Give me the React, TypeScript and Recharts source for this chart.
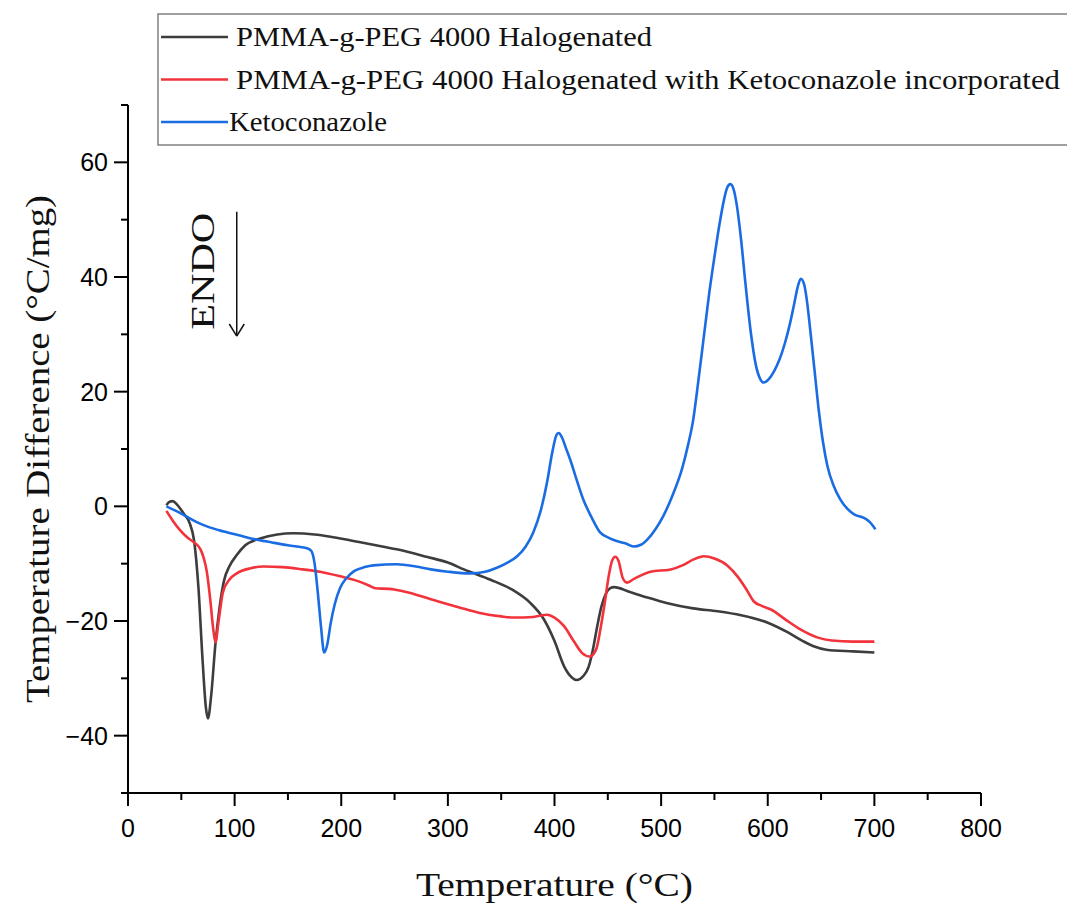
import React from 'react';
import {
  LineChart,
  Line,
  XAxis,
  YAxis,
  Legend,
  Label,
  ReferenceLine,
  ReferenceDot,
} from 'recharts';

// temperature (°C) / temperature difference (°C/mg)
const halogenated = [
  { t: 36, v: 0.2 }, { t: 39, v: 0.8 }, { t: 42, v: 0.9 }, { t: 46, v: 0.3 },
  { t: 52, v: -1.2 }, { t: 58, v: -3.0 }, { t: 62, v: -6 }, { t: 66, v: -14 },
  { t: 70, v: -27 }, { t: 73, v: -35 }, { t: 75, v: -37 }, { t: 78, v: -33 },
  { t: 82, v: -24 }, { t: 86, v: -17.5 }, { t: 90, v: -13 }, { t: 95, v: -10.5 },
  { t: 102, v: -8.5 }, { t: 110, v: -6.8 }, { t: 124, v: -5.6 }, { t: 140, v: -4.9 },
  { t: 155, v: -4.7 }, { t: 175, v: -4.9 }, { t: 190, v: -5.3 }, { t: 210, v: -6 },
  { t: 230, v: -6.7 }, { t: 252, v: -7.5 }, { t: 280, v: -8.8 }, { t: 300, v: -9.8 },
  { t: 315, v: -11 }, { t: 340, v: -12.8 }, { t: 360, v: -14.5 }, { t: 377, v: -16.8 },
  { t: 390, v: -19.7 }, { t: 400, v: -23.5 }, { t: 409, v: -27.9 }, { t: 416, v: -29.8 },
  { t: 421, v: -30.3 }, { t: 427, v: -29.6 }, { t: 432, v: -28 }, { t: 436, v: -25 },
  { t: 440, v: -21 }, { t: 444, v: -17.5 }, { t: 448, v: -15.3 }, { t: 452, v: -14.3 },
  { t: 456, v: -14.1 }, { t: 470, v: -14.9 },
  { t: 487, v: -15.9 }, { t: 506, v: -16.9 }, { t: 530, v: -17.8 }, { t: 553, v: -18.3 },
  { t: 575, v: -19 }, { t: 600, v: -20.3 }, { t: 619, v: -22 }, { t: 633, v: -23.5 },
  { t: 643, v: -24.4 }, { t: 655, v: -25 }, { t: 680, v: -25.3 }, { t: 700, v: -25.5 },
];

const withKetoconazole = [
  { t: 36, v: -0.8 }, { t: 42, v: -2.5 }, { t: 49, v: -4.2 }, { t: 56, v: -5.5 },
  { t: 62, v: -6.3 }, { t: 68, v: -7.5 }, { t: 71, v: -9 }, { t: 74, v: -11.5 },
  { t: 77, v: -16 }, { t: 80, v: -21.5 }, { t: 82, v: -23.7 }, { t: 85, v: -20 },
  { t: 89, v: -15 }, { t: 95, v: -12.8 }, { t: 102, v: -11.7 }, { t: 115, v: -10.8 },
  { t: 127, v: -10.5 }, { t: 145, v: -10.6 }, { t: 164, v: -11 }, { t: 180, v: -11.4 },
  { t: 199, v: -12.2 }, { t: 215, v: -13 }, { t: 226, v: -13.8 }, { t: 232, v: -14.3 },
  { t: 245, v: -14.4 }, { t: 260, v: -14.9 }, { t: 284, v: -16.2 }, { t: 310, v: -17.6 },
  { t: 330, v: -18.6 }, { t: 350, v: -19.2 }, { t: 362, v: -19.4 }, { t: 380, v: -19.3 },
  { t: 393, v: -18.9 }, { t: 400, v: -19.4 }, { t: 409, v: -20.9 }, { t: 418, v: -23.5 },
  { t: 426, v: -25.6 }, { t: 433, v: -26.2 }, { t: 439, v: -25 }, { t: 443, v: -21.5 },
  { t: 447, v: -17 }, { t: 451, v: -12 }, { t: 454, v: -9.5 }, { t: 457, v: -8.8 },
  { t: 460, v: -9.5 }, { t: 464, v: -12.5 }, { t: 468, v: -13.3 }, { t: 475, v: -12.6 },
  { t: 490, v: -11.4 }, { t: 509, v: -11 }, { t: 520, v: -10.3 }, { t: 530, v: -9.3 },
  { t: 540, v: -8.7 }, { t: 550, v: -9.1 }, { t: 562, v: -10.3 }, { t: 572, v: -12.3 },
  { t: 580, v: -14.5 }, { t: 587, v: -16.6 }, { t: 595, v: -17.4 }, { t: 603, v: -18 },
  { t: 617, v: -19.8 }, { t: 631, v: -21.5 }, { t: 647, v: -22.9 }, { t: 660, v: -23.4 },
  { t: 680, v: -23.6 }, { t: 700, v: -23.6 },
];

const ketoconazole = [
  { t: 36, v: 0 }, { t: 45, v: -0.8 }, { t: 55, v: -1.8 }, { t: 65, v: -2.8 },
  { t: 74, v: -3.5 }, { t: 90, v: -4.4 }, { t: 105, v: -5.1 }, { t: 118, v: -5.7 },
  { t: 135, v: -6.3 }, { t: 150, v: -6.8 }, { t: 168, v: -7.3 }, { t: 172, v: -7.8 },
  { t: 175, v: -10 }, { t: 178, v: -15 }, { t: 181, v: -21 }, { t: 184, v: -25.5 },
  { t: 187, v: -24 }, { t: 190, v: -20.5 }, { t: 194, v: -17 }, { t: 199, v: -14.2 },
  { t: 205, v: -12.5 }, { t: 212, v: -11.3 }, { t: 222, v: -10.6 }, { t: 230, v: -10.3 },
  { t: 252, v: -10.1 }, { t: 270, v: -10.5 }, { t: 284, v: -11 }, { t: 300, v: -11.4 },
  { t: 321, v: -11.7 }, { t: 335, v: -11.4 }, { t: 346, v: -10.7 }, { t: 356, v: -9.8 },
  { t: 365, v: -8.7 }, { t: 373, v: -7 }, { t: 380, v: -4.6 }, { t: 387, v: -0.8 },
  { t: 393, v: 4.2 }, { t: 398, v: 9.5 }, { t: 402, v: 12.5 }, { t: 404, v: 12.8 },
  { t: 407, v: 12 }, { t: 411, v: 10 }, { t: 415, v: 8 }, { t: 421, v: 4.5 },
  { t: 427, v: 1.2 }, { t: 435, v: -2 }, { t: 443, v: -4.6 }, { t: 450, v: -5.4 },
  { t: 459, v: -6.1 }, { t: 467, v: -6.5 }, { t: 474, v: -7 }, { t: 481, v: -6.7 },
  { t: 487, v: -5.8 }, { t: 495, v: -3.9 }, { t: 502, v: -1.7 }, { t: 510, v: 1.6 },
  { t: 520, v: 6.8 }, { t: 525, v: 10.5 }, { t: 530, v: 15 }, { t: 535, v: 22 },
  { t: 540, v: 29.5 }, { t: 545, v: 37 }, { t: 550, v: 43.5 }, { t: 555, v: 49.5 },
  { t: 559, v: 53.5 }, { t: 562, v: 55.6 }, { t: 565, v: 56.2 }, { t: 568, v: 55.3 },
  { t: 571, v: 52.5 }, { t: 575, v: 46.5 }, { t: 579, v: 39 }, { t: 584, v: 30.5 },
  { t: 589, v: 24.5 }, { t: 593, v: 22.2 }, { t: 596, v: 21.6 }, { t: 601, v: 22.2 },
  { t: 606, v: 23.6 }, { t: 611, v: 25.6 }, { t: 616, v: 28.4 }, { t: 621, v: 32 },
  { t: 625, v: 35.5 }, { t: 628, v: 38.2 }, { t: 631, v: 39.7 }, { t: 634, v: 38.8 },
  { t: 637, v: 35.5 }, { t: 640, v: 30.5 }, { t: 644, v: 23.5 }, { t: 648, v: 16.5 },
  { t: 652, v: 11 }, { t: 656, v: 7 }, { t: 662, v: 3.5 }, { t: 668, v: 1.2 },
  { t: 675, v: -0.5 }, { t: 681, v: -1.4 }, { t: 690, v: -2 }, { t: 696, v: -2.8 },
  { t: 701, v: -4 },
];

const seriesNames = [
  'PMMA-g-PEG 4000 Halogenated',
  'PMMA-g-PEG 4000 Halogenated with Ketoconazole incorporated',
  'Ketoconazole',
];
const seriesColors = ['#3d3d3d', '#f2333b', '#1a6ce3'];

const xTicks = [0, 50, 100, 150, 200, 250, 300, 350, 400, 450, 500, 550, 600, 650, 700, 750, 800];
const yTicks = [-50, -40, -30, -20, -10, 0, 10, 20, 30, 40, 50, 60, 70];

// ENDO arrow annotation, in data units
const endoText = { t: 70.4, v: 41 };
const endoArrowTop = { t: 102, v: 51.4 };
const endoArrowTip = { t: 102, v: 29.7 };

const SANS = '"Liberation Sans", Arial, sans-serif';
const SERIF = '"Liberation Serif", "Times New Roman", serif';

const legendTextWidth = [416, 824, 158];

const XTick = (props: any) => {
  const { x, y, payload } = props;
  const major = payload.value % 100 === 0;
  return (
    <g>
      <line x1={x} y1={y} x2={x} y2={y + (major ? 13 : 7)} stroke="#000" strokeWidth={2} />
      {major && (
        <text x={x} y={y + 44} textAnchor="middle" fontFamily={SANS} fontSize={25} fill="#000">
          {payload.value}
        </text>
      )}
    </g>
  );
};

const YTick = (props: any) => {
  const { x, y, payload } = props;
  const major = payload.value % 20 === 0;
  const label = payload.value < 0 ? `\u2212${Math.abs(payload.value)}` : `${payload.value}`;
  return (
    <g>
      <line x1={x - (major ? 14 : 7)} y1={y} x2={x} y2={y} stroke="#000" strokeWidth={2} />
      {major && (
        <text x={x - 20} y={y + 9} textAnchor="end" fontFamily={SANS} fontSize={25} fill="#000">
          {label}
        </text>
      )}
    </g>
  );
};

// drawn in series order, not the legend payload order
const renderLegend = () => (
  <svg width={912} height={134} style={{ display: 'block' }}>
    <path d="M912,1 H1 V132 H912" fill="none" stroke="#808080" strokeWidth={1.5} />
    {seriesNames.map((name, i) => {
      const cy = 24 + i * 42.5;
      const tx = i === 2 ? 72 : 79;
      return (
        <g key={name}>
          <line x1={4} y1={cy} x2={71} y2={cy} stroke={seriesColors[i]} strokeWidth={2.5} />
          <text
            x={tx}
            y={cy + 9}
            fontFamily={SERIF}
            fontSize={27}
            fill="#111"
            textLength={legendTextWidth[i]}
            lengthAdjust="spacingAndGlyphs"
          >
            {name}
          </text>
        </g>
      );
    })}
  </svg>
);

const XTitle = (props: any) => {
  const { viewBox } = props;
  return (
    <text
      x={viewBox.x + viewBox.width / 2}
      y={viewBox.y + 103}
      textAnchor="middle"
      fontFamily={SERIF}
      fontSize={34}
      fill="#111"
      textLength={277}
      lengthAdjust="spacingAndGlyphs"
    >
      Temperature (°C)
    </text>
  );
};

const YTitle = (props: any) => {
  const { viewBox } = props;
  const cx = viewBox.x + 37;
  const cy = viewBox.y + viewBox.height / 2;
  return (
    <text
      x={cx}
      y={cy}
      transform={`rotate(-90 ${cx} ${cy})`}
      textAnchor="middle"
      dominantBaseline="central"
      fontFamily={SERIF}
      fontSize={34}
      fill="#111"
      textLength={508}
      lengthAdjust="spacingAndGlyphs"
    >
      Temperature Difference (°C/mg)
    </text>
  );
};

const EndoLabel = (props: any) => {
  const { cx, cy } = props;
  return (
    <text
      x={cx}
      y={cy}
      transform={`rotate(-90 ${cx} ${cy})`}
      textAnchor="middle"
      dominantBaseline="central"
      fontFamily={SERIF}
      fontSize={33}
      fill="#111"
      textLength={117}
      lengthAdjust="spacingAndGlyphs"
    >
      ENDO
    </text>
  );
};

export default function App() {
  return (
    <div style={{ width: 1067, height: 907 }}>
      <style>{'body{margin:0}'}</style>
      <LineChart width={1067} height={907} margin={{ top: 105, right: 86, bottom: 54, left: 0 }}>
        <XAxis
          dataKey="t"
          type="number"
          domain={[0, 800]}
          ticks={xTicks}
          interval={0}
          height={60}
          tickSize={0}
          tickMargin={0}
          tick={<XTick />}
          axisLine={{ stroke: '#000', strokeWidth: 2 }}
          allowDataOverflow
        >
          <Label content={<XTitle />} />
        </XAxis>
        <YAxis
          type="number"
          domain={[-50, 70]}
          ticks={yTicks}
          interval={0}
          width={128}
          tickSize={0}
          tickMargin={0}
          tick={<YTick />}
          axisLine={{ stroke: '#000', strokeWidth: 2 }}
          allowDataOverflow
        >
          <Label content={<YTitle />} />
        </YAxis>
        <Legend
          layout="horizontal"
          verticalAlign="middle"
          align="center"
          content={renderLegend}
          wrapperStyle={{ position: 'absolute', left: 157, top: 13, width: 912, height: 134 }}
        />
        <ReferenceLine
          segment={[
            { x: endoArrowTop.t, y: endoArrowTop.v },
            { x: endoArrowTip.t, y: endoArrowTip.v },
          ]}
          stroke="#111"
          strokeWidth={1.5}
        />
        <ReferenceLine
          segment={[
            { x: endoArrowTip.t - 7, y: endoArrowTip.v + 2.1 },
            { x: endoArrowTip.t, y: endoArrowTip.v },
          ]}
          stroke="#111"
          strokeWidth={1.5}
        />
        <ReferenceLine
          segment={[
            { x: endoArrowTip.t + 7, y: endoArrowTip.v + 2.1 },
            { x: endoArrowTip.t, y: endoArrowTip.v },
          ]}
          stroke="#111"
          strokeWidth={1.5}
        />
        <ReferenceDot x={endoText.t} y={endoText.v} r={0} shape={<EndoLabel />} />
        <Line
          data={halogenated}
          dataKey="v"
          name={seriesNames[0]}
          type="monotone"
          stroke={seriesColors[0]}
          strokeWidth={2.6}
          dot={false}
          activeDot={false}
          isAnimationActive={false}
        />
        <Line
          data={withKetoconazole}
          dataKey="v"
          name={seriesNames[1]}
          type="monotone"
          stroke={seriesColors[1]}
          strokeWidth={2.6}
          dot={false}
          activeDot={false}
          isAnimationActive={false}
        />
        <Line
          data={ketoconazole}
          dataKey="v"
          name={seriesNames[2]}
          type="monotone"
          stroke={seriesColors[2]}
          strokeWidth={2.6}
          dot={false}
          activeDot={false}
          isAnimationActive={false}
        />
      </LineChart>
    </div>
  );
}
